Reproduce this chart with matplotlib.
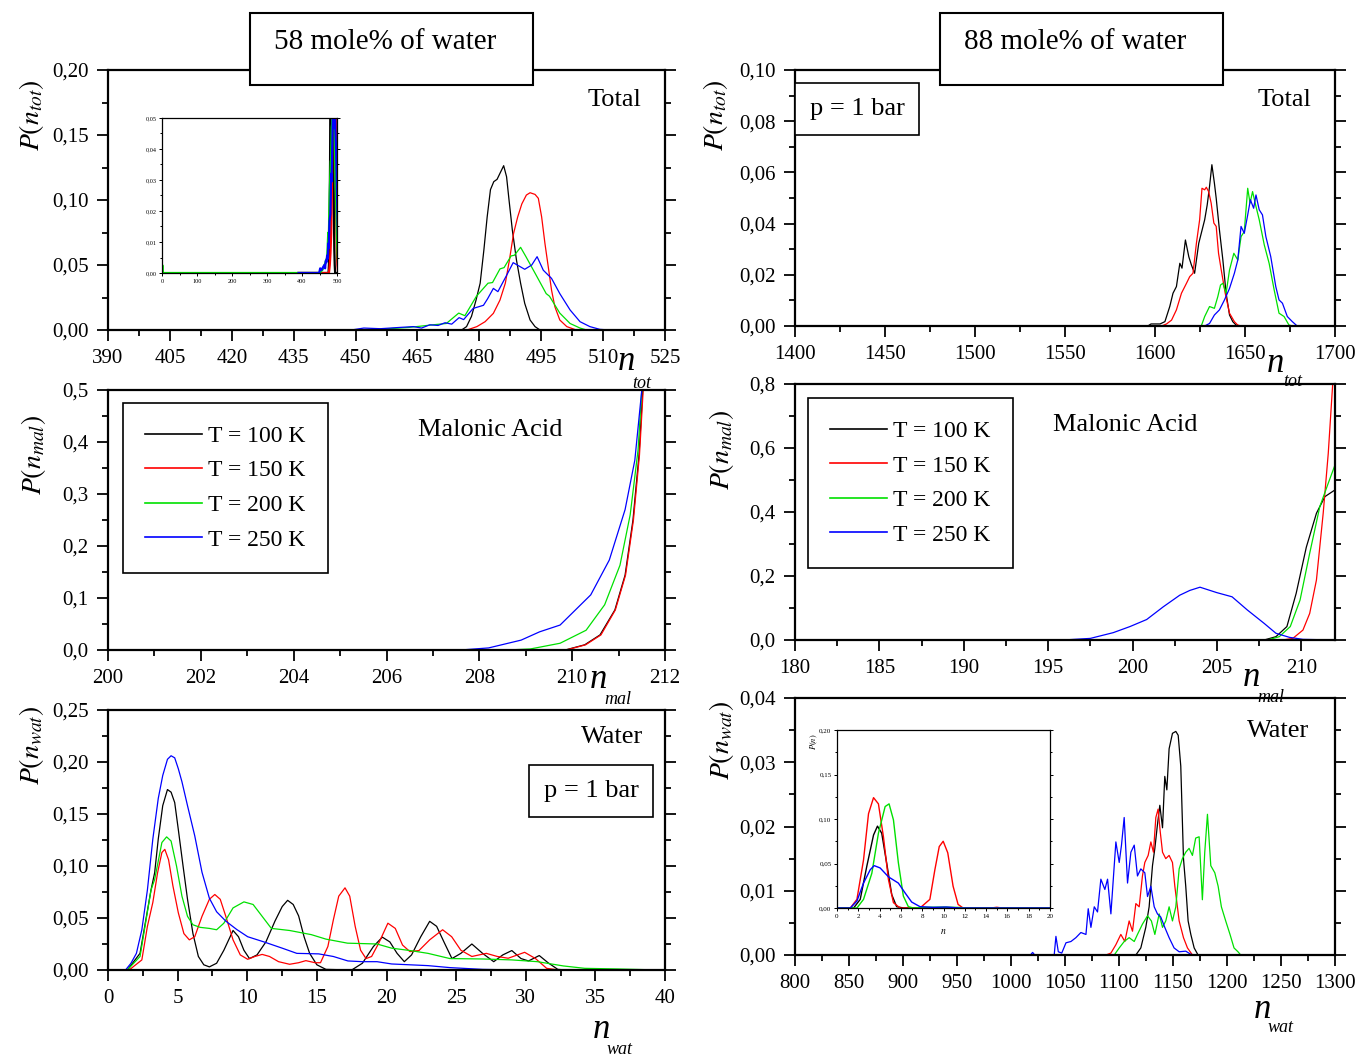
import numpy as np
import matplotlib
matplotlib.use("Agg")
import matplotlib.pyplot as plt
from matplotlib.ticker import FuncFormatter, AutoMinorLocator, MultipleLocator
from matplotlib.patches import Rectangle

plt.rcParams['font.family'] = ['Liberation Serif', 'DejaVu Serif']
plt.rcParams['mathtext.fontset'] = 'stix'

W, H = 1361, 1057
colors = ['black', 'red', '#00e000', 'blue']
temps = ['T = 100 K', 'T = 150 K', 'T = 200 K', 'T = 250 K']

# ---- 58 mole% water, total cluster size ----
tot58_x_k = [390, 475.7, 476.9, 478.1, 479.2, 480.2, 481.1, 481.9, 482.7, 483.5, 484.3, 485, 485.9,
             486.6, 487.2, 488, 489, 490, 491, 492.3, 493.5, 494.7, 525]
tot58_y_k = [0, 0, 0.0026, 0.0105, 0.023, 0.036, 0.0615, 0.087, 0.108, 0.1141, 0.1159, 0.1205, 0.1264,
             0.1179, 0.0999, 0.0769, 0.0538, 0.036, 0.0205, 0.0077, 0.0026, 0, 0]
tot58_x_r = [390, 477, 479.4, 481.4, 483.4, 485, 486.3, 487.3, 488.3, 489.3, 490.3, 491.4, 492.3, 493.5,
             494.3, 495.1, 495.9, 496.7, 497.5, 498.3, 499.5, 501.2, 503.5, 525]
tot58_y_r = [0, 0, 0.0026, 0.0064, 0.0128, 0.023, 0.036, 0.054, 0.0743, 0.087, 0.097, 0.1038, 0.1056,
             0.1043, 0.1013, 0.087, 0.0666, 0.0487, 0.0307, 0.018, 0.0077, 0.0026, 0, 0]
tot58_x_g = [0, 1, 2, 450, 458, 463, 468.8, 472, 475, 476.5, 479.3, 482.1, 483.2, 485, 486, 487.7, 488.5,
             490, 491.3, 493.8, 496.2, 497, 499.5, 502, 504.4, 506, 525]
tot58_y_g = [0, 0.0025, 0, 0, 0.001, 0.002, 0.004, 0.005, 0.013, 0.011, 0.026, 0.036, 0.0365, 0.047, 0.048,
             0.057, 0.0575, 0.0636, 0.0564, 0.042, 0.028, 0.026, 0.013, 0.005, 0.0015, 0, 0]
tot58_x_b = [390, 449, 452, 456, 460.8, 464, 466, 468, 470, 471.7, 473.3, 475.1, 476.2, 478.5, 481, 482,
             483.4, 484.5, 486.6, 488.2, 491, 492.7, 494, 495.5, 497.5, 499.5, 502, 504.4, 506.8, 509.2,
             511.6, 525]
tot58_y_b = [0, 0, 0.0015, 0.001, 0.002, 0.0026, 0.0015, 0.004, 0.0035, 0.0056, 0.0045, 0.0095, 0.008,
             0.0166, 0.019, 0.024, 0.032, 0.0295, 0.042, 0.0518, 0.0467, 0.05, 0.0564, 0.046, 0.0397,
             0.028, 0.0154, 0.0064, 0.0026, 0.0005, 0, 0]

# ---- 58 mole% water, malonic acid ----
mal58_x_k = [200, 209.85, 210.27, 210.6, 210.92, 211.14, 211.31, 211.44, 211.52]
mal58_y_k = [0, 0, 0.01, 0.029, 0.077, 0.144, 0.25, 0.375, 0.5]
mal58_x_r = [200, 209.87, 210.29, 210.62, 210.93, 211.15, 211.32, 211.45, 211.53]
mal58_y_r = [0, 0, 0.01, 0.029, 0.077, 0.144, 0.25, 0.375, 0.5]
mal58_x_g = [200, 208.6, 209.1, 209.74, 210.3, 210.7, 211.03, 211.25, 211.42, 211.5]
mal58_y_g = [0, 0, 0.002, 0.013, 0.038, 0.087, 0.163, 0.26, 0.385, 0.5]
mal58_x_b = [200, 207.6, 208.2, 208.9, 209.3, 209.74, 210.4, 210.8, 211.14, 211.35, 211.5]
mal58_y_b = [0, 0, 0.004, 0.019, 0.035, 0.048, 0.106, 0.173, 0.27, 0.365, 0.5]

# ---- 58 mole% water, water ----
wat58_x_k = [0, 1.39, 2.3, 3.09, 3.35, 3.61, 3.93, 4.27, 4.53, 4.79, 5.05, 5.39, 5.71, 6.1, 6.49, 6.88,
             7.28, 7.8, 8.32, 8.98, 9.37, 9.76, 10.16, 10.7, 11.34, 11.99, 12.51, 12.9, 13.3, 13.69,
             14.08, 14.48, 15.0, 15.65, 17.5, 18.27, 19.06, 19.7, 20.24, 20.76, 21.28, 21.8, 22.46, 23.1,
             23.6, 24.16, 24.7, 25.34, 26.13, 26.9, 27.7, 28.35, 29.0, 29.66, 30.2, 30.97, 31.6, 32.3,
             32.9, 40]
wat58_y_k = [0, 0, 0.016, 0.077, 0.0935, 0.126, 0.158, 0.1735, 0.171, 0.161, 0.135, 0.1, 0.068, 0.035,
             0.013, 0.005, 0.003, 0.0065, 0.019, 0.038, 0.032, 0.019, 0.011, 0.0145, 0.027, 0.047, 0.061,
             0.067, 0.063, 0.052, 0.032, 0.016, 0.005, 0.0006, 0, 0.0065, 0.0226, 0.0316, 0.027, 0.016,
             0.008, 0.0145, 0.032, 0.0468, 0.042, 0.026, 0.011, 0.016, 0.025, 0.016, 0.008, 0.0145,
             0.0187, 0.011, 0.0087, 0.0139, 0.007, 0.0006, 0, 0]
wat58_x_r = [0, 1.52, 2.43, 2.83, 3.22, 3.56, 3.87, 4.08, 4.35, 4.66, 5.05, 5.45, 5.84, 6.23, 6.75, 7.28,
             7.67, 8.06, 8.46, 8.98, 9.5, 10.03, 10.55, 11.07, 11.6, 12.25, 13.04, 13.69, 14.21, 14.87,
             15.26, 15.79, 16.18, 16.57, 17.02, 17.36, 17.75, 18.14, 18.53, 18.93, 19.45, 20.1, 20.63,
             21.15, 21.68, 22.33, 23.1, 24.03, 24.68, 25.34, 26.13, 27.17, 27.96, 28.74, 29.92, 30.7,
             31.5, 32.4, 40]
wat58_y_r = [0, 0, 0.0097, 0.042, 0.065, 0.0935, 0.113, 0.116, 0.106, 0.081, 0.055, 0.035, 0.029, 0.032,
             0.0516, 0.068, 0.0726, 0.068, 0.0516, 0.029, 0.0145, 0.0103, 0.013, 0.015, 0.013, 0.008,
             0.0055, 0.007, 0.009, 0.007, 0.007, 0.0226, 0.048, 0.071, 0.079, 0.071, 0.042, 0.019,
             0.011, 0.013, 0.026, 0.045, 0.040, 0.024, 0.0177, 0.0187, 0.029, 0.0387, 0.032, 0.019,
             0.013, 0.016, 0.013, 0.0113, 0.017, 0.011, 0.0016, 0, 0]
wat58_x_g = [0, 1.39, 2.3, 3.09, 3.35, 3.87, 4.21, 4.53, 4.92, 5.31, 5.71, 6.1, 6.62, 7.28, 7.8, 8.32,
             8.98, 9.76, 10.42, 11.07, 11.73, 13.04, 14.6, 15.65, 17.2, 19.32, 20.37, 21.7, 22.98, 24.55,
             26.9, 29.0, 30.84, 32.7, 34.24, 36.6, 38.7, 40]
wat58_y_g = [0, 0, 0.013, 0.077, 0.087, 0.1226, 0.128, 0.124, 0.1, 0.071, 0.0516, 0.0435, 0.041, 0.040,
             0.0387, 0.045, 0.0597, 0.0655, 0.063, 0.0516, 0.040, 0.038, 0.034, 0.0297, 0.0258, 0.025,
             0.021, 0.0187, 0.016, 0.011, 0.0106, 0.0097, 0.008, 0.0039, 0.0016, 0.001, 0.0003, 0]
wat58_x_b = [0, 1.26, 1.65, 2.04, 2.43, 2.83, 3.22, 3.61, 3.93, 4.27, 4.53, 4.79, 5.05, 5.31, 5.71, 6.23,
             6.75, 7.28, 7.8, 8.46, 9.24, 10.03, 11.2, 12.51, 13.56, 15.13, 16.18, 17.23, 18.27, 19.32,
             20.37, 22.98, 24.55, 26.9, 29.5, 40]
wat58_y_b = [0, 0, 0.0065, 0.016, 0.0387, 0.077, 0.126, 0.165, 0.187, 0.2026, 0.206, 0.204, 0.1935,
             0.181, 0.158, 0.129, 0.094, 0.069, 0.056, 0.047, 0.039, 0.032, 0.027, 0.021, 0.016, 0.0155,
             0.013, 0.0087, 0.008, 0.008, 0.0058, 0.0042, 0.0023, 0.0006, 0, 0]

# ---- 88 mole% water, total cluster size ----
tot88_x_k = [1400, 1596, 1597.8, 1602.8, 1605.5, 1608.2, 1610, 1611.9, 1613.8, 1615, 1616.9, 1618.8,
             1620.2, 1622, 1624.3, 1625.7, 1627.6, 1629, 1630.3, 1631.6, 1633, 1634, 1635.8, 1637.7,
             1639.5, 1641.4, 1643.2, 1645, 1646.9, 1700]
tot88_y_k = [0, 0, 0.0008, 0.0008, 0.0017, 0.0076, 0.0128, 0.0154, 0.0245, 0.0226, 0.0336, 0.027, 0.0239,
             0.0206, 0.0323, 0.0362, 0.0415, 0.0473, 0.0545, 0.063, 0.0558, 0.0499, 0.0375, 0.0258,
             0.0128, 0.0043, 0.0017, 0.0004, 0, 0]
tot88_x_r = [1400, 1603.7, 1606.4, 1609.2, 1611.9, 1614.7, 1617.5, 1619.3, 1621.1, 1623, 1624.8, 1626.1,
             1627.6, 1628.5, 1629.8, 1631.2, 1632.7, 1634, 1635.3, 1636.8, 1639, 1641.4, 1644.1, 1645.9,
             1647.8, 1700]
tot88_y_r = [0, 0, 0.0008, 0.0023, 0.0063, 0.0128, 0.0167, 0.0193, 0.0206, 0.0323, 0.0415, 0.0538,
             0.0532, 0.0542, 0.0525, 0.048, 0.0402, 0.0389, 0.0284, 0.0219, 0.0128, 0.005, 0.0017,
             0.0004, 0, 0]
tot88_x_g = [1400, 1625.7, 1627.6, 1630.3, 1633, 1634.9, 1636.4, 1637.7, 1639.5, 1641.4, 1643.8, 1646,
             1647.8, 1649.6, 1651.5, 1652.8, 1654.2, 1656.1, 1657.9, 1660.7, 1663.4, 1666.2, 1668.9,
             1671.7, 1674.4, 1676.3, 1700]
tot88_y_g = [0, 0, 0.0037, 0.0076, 0.0069, 0.0115, 0.016, 0.0167, 0.0128, 0.0219, 0.0284, 0.0258,
             0.0349, 0.0369, 0.0538, 0.048, 0.0525, 0.0467, 0.0415, 0.0317, 0.0245, 0.0141, 0.005,
             0.0037, 0.0004, 0, 0]
tot88_x_b = [1400, 1627.6, 1630.3, 1633, 1635.8, 1638.6, 1641.4, 1644.1, 1646, 1647.8, 1649.6, 1651.5,
             1653, 1654.8, 1656.1, 1657.9, 1659.7, 1661.6, 1664.3, 1667.1, 1668.9, 1670.8, 1673.5,
             1676.3, 1679, 1700]
tot88_y_b = [0, 0, 0.001, 0.0043, 0.0063, 0.0102, 0.0147, 0.0206, 0.0258, 0.0389, 0.0362, 0.0434,
             0.0493, 0.046, 0.0512, 0.0454, 0.0434, 0.0349, 0.0271, 0.0154, 0.0102, 0.0089, 0.0037,
             0.0017, 0, 0]

# ---- 88 mole% water, malonic acid ----
mal88_x_k = [180, 207.8, 208.5, 209.15, 209.7, 210.3, 210.9, 211.4, 212]
mal88_y_k = [0, 0, 0.0104, 0.042, 0.146, 0.29, 0.396, 0.448, 0.469]
mal88_x_r = [180, 208.9, 209.5, 210.1, 210.5, 210.9, 211.3, 211.6, 211.86, 212]
mal88_y_r = [0, 0, 0.005, 0.031, 0.083, 0.1875, 0.396, 0.583, 0.797, 0.85]
mal88_x_g = [180, 208.0, 208.7, 209.35, 209.93, 210.5, 211.1, 211.6, 212]
mal88_y_g = [0, 0, 0.0104, 0.042, 0.125, 0.271, 0.417, 0.49, 0.547]
mal88_x_b = [180, 195.9, 197.5, 198.86, 199.85, 200.84, 201.83, 202.8, 203.4, 204.0, 205.0, 205.9,
             206.8, 207.8, 208.5, 209.3, 210.1, 212]
mal88_y_b = [0, 0, 0.005, 0.023, 0.042, 0.064, 0.104, 0.14, 0.155, 0.165, 0.148, 0.135, 0.094, 0.052,
             0.021, 0.0083, 0.002, 0]

# ---- 88 mole% water, water ----
wat88_x_k = [800, 1115.6, 1120.2, 1124.8, 1127.9, 1131, 1133.2, 1135.6, 1137.8, 1140.3, 1142.4, 1144.3,
             1146.4, 1149.5, 1152.6, 1154.8, 1157.2, 1159.7, 1161.8, 1164, 1166.5, 1169.6, 1173.2, 1300]
wat88_y_k = [0, 0, 0.0011, 0.0043, 0.0075, 0.0139, 0.0166, 0.0203, 0.0233, 0.0198, 0.0278, 0.0257,
             0.0321, 0.0345, 0.0348, 0.0342, 0.0294, 0.015, 0.0107, 0.0053, 0.0032, 0.0011, 0, 0]
wat88_x_r = [800, 1087.9, 1092.5, 1097.1, 1101.7, 1105.4, 1109.4, 1112.5, 1115.6, 1118.7, 1121.7, 1123.9,
             1127, 1129.5, 1131.9, 1134.1, 1136.2, 1138.1, 1140.3, 1143.3, 1146.4, 1149.5, 1151.7,
             1155.7, 1159.7, 1163.4, 1168, 1300]
wat88_y_r = [0, 0, 0.0003, 0.0016, 0.0032, 0.0021, 0.0053, 0.0037, 0.008, 0.0075, 0.0123, 0.0144,
             0.0155, 0.0176, 0.016, 0.0214, 0.0227, 0.0193, 0.016, 0.015, 0.0155, 0.0144, 0.0107, 0.0053,
             0.0027, 0.0011, 0, 0]
wat88_x_g = [800, 1095.6, 1100.2, 1104.8, 1109.4, 1114.1, 1117.1, 1121.7, 1126.4, 1130, 1133.2, 1137.2,
             1140.3, 1143.3, 1146.4, 1149.5, 1152.6, 1155.7, 1158.7, 1161.8, 1164.9, 1168, 1171, 1174.2,
             1177.2, 1179.4, 1181.9, 1185, 1188.7, 1191.8, 1194.8, 1198.8, 1202.8, 1206.5, 1210.2,
             1212.7, 1300]
wat88_y_g = [0, 0, 0.0011, 0.0021, 0.0027, 0.0021, 0.0032, 0.0048, 0.0061, 0.0053, 0.0032, 0.0064,
             0.0043, 0.0053, 0.0075, 0.0053, 0.0075, 0.0134, 0.015, 0.016, 0.0166, 0.0155, 0.0182,
             0.0184, 0.0086, 0.016, 0.0219, 0.0139, 0.0128, 0.0107, 0.0075, 0.0053, 0.0032, 0.0011,
             0.0005, 0, 0]
wat88_x_b = [800, 1018, 1020, 1022, 1040, 1041.6, 1043.8, 1047, 1050.9, 1055.5, 1060.1, 1064.7, 1069.4,
             1071.5, 1074, 1077.1, 1080.1, 1083.2, 1086.9, 1089.4, 1092.5, 1097.1, 1100.2, 1102.3,
             1104.8, 1107.9, 1111, 1114.1, 1117.1, 1120.2, 1123.9, 1126.4, 1129.5, 1132.6, 1135.6,
             1138.7, 1142.4, 1146.4, 1151, 1155.7, 1161.8, 1166.5, 1170, 1300]
wat88_y_b = [0, 0, 0.0004, 0, 0, 0.0029, 0.0005, 0.0003, 0.0019, 0.0021, 0.0027, 0.0035, 0.0032,
             0.0072, 0.0043, 0.0075, 0.0067, 0.0118, 0.0102, 0.0118, 0.0064, 0.0176, 0.0144, 0.0171,
             0.0214, 0.0112, 0.016, 0.0171, 0.0123, 0.0134, 0.0128, 0.0091, 0.0107, 0.0075, 0.0064,
             0.0059, 0.0043, 0.0027, 0.0011, 0.0005, 0.0006, 0.0001, 0, 0]

# ---- inset: small-n water clusters (88 mole%) ----
ins_x_k = [0, 1.56, 2.18, 2.8, 3.43, 3.8, 4.2, 4.67, 5.14, 5.6, 6.23, 20]
ins_y_k = [0, 0, 0.0097, 0.047, 0.082, 0.092, 0.084, 0.05, 0.015, 0.0015, 0, 0]
ins_x_r = [0, 1.25, 1.87, 2.49, 2.96, 3.43, 3.89, 4.36, 4.83, 5.3, 5.92, 7.79, 8.72, 9.19, 9.6, 9.97,
           10.4, 10.9, 11.37, 11.84, 14.5, 15.0, 15.5, 20]
ins_y_r = [0, 0, 0.0097, 0.054, 0.106, 0.124, 0.117, 0.08, 0.032, 0.006, 0, 0, 0.0097, 0.043, 0.069,
           0.075, 0.062, 0.0245, 0.004, 0, 0, 0.0008, 0, 0]
ins_x_g = [0, 1.87, 2.49, 3.27, 3.89, 4.52, 4.89, 5.3, 5.76, 6.23, 6.7, 7.17, 8.5, 10, 11.5, 12, 20]
ins_y_g = [0, 0, 0.0097, 0.039, 0.084, 0.114, 0.117, 0.099, 0.051, 0.0134, 0.0015, 0, 0.0008, 0.001,
           0.0006, 0, 0]
ins_x_b = [0, 1.25, 1.87, 2.49, 3.12, 3.49, 4.05, 4.83, 5.76, 6.39, 7.01, 7.79, 9.03, 10.28, 11.5, 20]
ins_y_b = [0, 0, 0.0078, 0.028, 0.043, 0.0476, 0.045, 0.035, 0.028, 0.017, 0.0067, 0.0015, 0.0007,
           0.0011, 0, 0]

fig = plt.figure(figsize=(W / 100, H / 100), dpi=100)


def add_ax(l, t, r, b):
    return fig.add_axes([l / W, 1 - b / H, (r - l) / W, (b - t) / H])


def ftext(x, y, s, **kw):
    return fig.text(x / W, 1 - y / H, s, **kw)


def comma(d):
    return FuncFormatter(lambda v, p: f'{v:.{d}f}'.replace('.', ','))


def style(ax, xlim, xstep, ylim, ystep, ydec, fs=15, lw=1.6, major=8, minor=4, pad=6):
    ax.set_xlim(*xlim)
    ax.set_ylim(*ylim)
    ax.xaxis.set_major_locator(MultipleLocator(xstep))
    ax.yaxis.set_major_locator(MultipleLocator(ystep))
    ax.xaxis.set_minor_locator(AutoMinorLocator(2))
    ax.yaxis.set_minor_locator(AutoMinorLocator(2))
    ax.yaxis.set_major_formatter(comma(ydec))
    ax.tick_params(which='both', direction='out', right=True, top=False,
                   labelsize=fs, width=lw * 0.8, pad=pad)
    ax.tick_params(which='major', length=major)
    ax.tick_params(which='minor', length=minor)
    for s in ax.spines.values():
        s.set_linewidth(lw)


def draw(ax, series, lw=0.9):
    for (x, y), c, lab in zip(series, colors, temps):
        ax.plot(x, y, color=c, lw=lw, label=lab)


tot58 = [(tot58_x_k, tot58_y_k), (tot58_x_r, tot58_y_r), (tot58_x_g, tot58_y_g), (tot58_x_b, tot58_y_b)]
mal58 = [(mal58_x_k, mal58_y_k), (mal58_x_r, mal58_y_r), (mal58_x_g, mal58_y_g), (mal58_x_b, mal58_y_b)]
wat58 = [(wat58_x_k, wat58_y_k), (wat58_x_r, wat58_y_r), (wat58_x_g, wat58_y_g), (wat58_x_b, wat58_y_b)]
tot88 = [(tot88_x_k, tot88_y_k), (tot88_x_r, tot88_y_r), (tot88_x_g, tot88_y_g), (tot88_x_b, tot88_y_b)]
mal88 = [(mal88_x_k, mal88_y_k), (mal88_x_r, mal88_y_r), (mal88_x_g, mal88_y_g), (mal88_x_b, mal88_y_b)]
wat88 = [(wat88_x_k, wat88_y_k), (wat88_x_r, wat88_y_r), (wat88_x_g, wat88_y_g), (wat88_x_b, wat88_y_b)]
ins88 = [(ins_x_k, ins_y_k), (ins_x_r, ins_y_r), (ins_x_g, ins_y_g), (ins_x_b, ins_y_b)]

# left column: 58 mole%
ax1 = add_ax(108, 70, 665, 330)
draw(ax1, tot58)
style(ax1, (390, 525), 15, (0, 0.2), 0.05, 2)
ax2 = add_ax(108, 390, 665, 650)
draw(ax2, mal58)
style(ax2, (200, 212), 2, (0, 0.5), 0.1, 1)
ax3 = add_ax(108, 710, 665, 970)
draw(ax3, wat58)
style(ax3, (0, 40), 5, (0, 0.25), 0.05, 2)

# right column: 88 mole%
ax4 = add_ax(795, 70, 1335, 326)
draw(ax4, tot88)
style(ax4, (1400, 1700), 50, (0, 0.10), 0.02, 2)
ax5 = add_ax(795, 384, 1335, 640)
draw(ax5, mal88)
style(ax5, (180, 212), 5, (0, 0.8), 0.2, 1)
ax6 = add_ax(795, 698, 1335, 955)
draw(ax6, wat88)
style(ax6, (800, 1300), 50, (0, 0.04), 0.01, 2)

# insets
in1 = add_ax(162, 118, 337, 273)
draw(in1, tot58, lw=1.6)
style(in1, (0, 500), 100, (0, 0.05), 0.01, 2, fs=4.5, lw=0.9, major=2.5, minor=1.5, pad=1.5)
in2 = add_ax(837, 730, 1050, 908)
draw(in2, ins88, lw=1.0)
style(in2, (0, 20), 2, (0, 0.20), 0.05, 2, fs=5, lw=0.9, major=2.5, minor=1.5, pad=1.5)
ftext(814, 742, r'$P(n)$', fontsize=6, rotation=90, ha='center', va='center')
ftext(943, 932, r'$n$', fontsize=7, ha='center', va='center')

# legends
for ax, anchor in [(ax2, (0.027, 0.95)), (ax5, (0.024, 0.945))]:
    leg = ax.legend(loc='upper left', bbox_to_anchor=anchor, fontsize=17, frameon=True,
                    fancybox=False, edgecolor='black', framealpha=1, handlelength=2.4,
                    handletextpad=0.25, labelspacing=0.55, borderpad=0.95, borderaxespad=0)
    leg.get_frame().set_linewidth(1.2)
    for ln in leg.get_lines():
        ln.set_linewidth(1.2)

# panel labels
ftext(615, 100, 'Total', fontsize=19, ha='center', va='center')
ftext(1285, 100, 'Total', fontsize=19, ha='center', va='center')
ftext(490, 430, 'Malonic Acid', fontsize=19, ha='center', va='center')
ftext(1125, 425, 'Malonic Acid', fontsize=19, ha='center', va='center')
ftext(612, 737, 'Water', fontsize=19, ha='center', va='center')
ftext(1278, 731, 'Water', fontsize=19, ha='center', va='center')

box = dict(boxstyle='square,pad=0.55', fc='white', ec='black', lw=1.2)
ftext(857, 109, 'p = 1 bar', fontsize=19, ha='center', va='center', bbox=box)
ftext(591, 791, 'p = 1 bar', fontsize=19, ha='center', va='center', bbox=box)

# title boxes
for l, s in [(250, '58 mole% of water'), (940, '88 mole% of water')]:
    fig.add_artist(Rectangle((l / W, 1 - 85 / H), 283 / W, 72 / H, transform=fig.transFigure,
                             fc='white', ec='black', lw=1.5, zorder=5))
    ftext(l + 135, 42, s, fontsize=21, ha='center', va='center', zorder=6)

# axis labels
for x, y, s in [(32, 115, r'$P(n_{tot})$'), (34, 455, r'$P(n_{mal})$'), (32, 745, r'$P(n_{wat})$'),
                (716, 115, r'$P(n_{tot})$'), (722, 450, r'$P(n_{mal})$'), (722, 740, r'$P(n_{wat})$')]:
    ftext(x, y, s, fontsize=20, rotation=90, ha='center', va='center')
for (x, y), (sx, sy), s in [((626, 362), (642, 384), 'tot'), ((598, 680), (618, 700), 'mal'),
                             ((601, 1030), (620, 1050), 'wat'), ((1275, 363), (1293, 381), 'tot'),
                             ((1251, 678), (1271, 697), 'mal'), ((1262, 1010), (1281, 1028), 'wat')]:
    ftext(x, y, 'n', fontsize=25, style='italic', ha='center', va='center')
    ftext(sx, sy, s, fontsize=13, style='italic', ha='center', va='center')

fig.savefig('out.png', dpi=100)
